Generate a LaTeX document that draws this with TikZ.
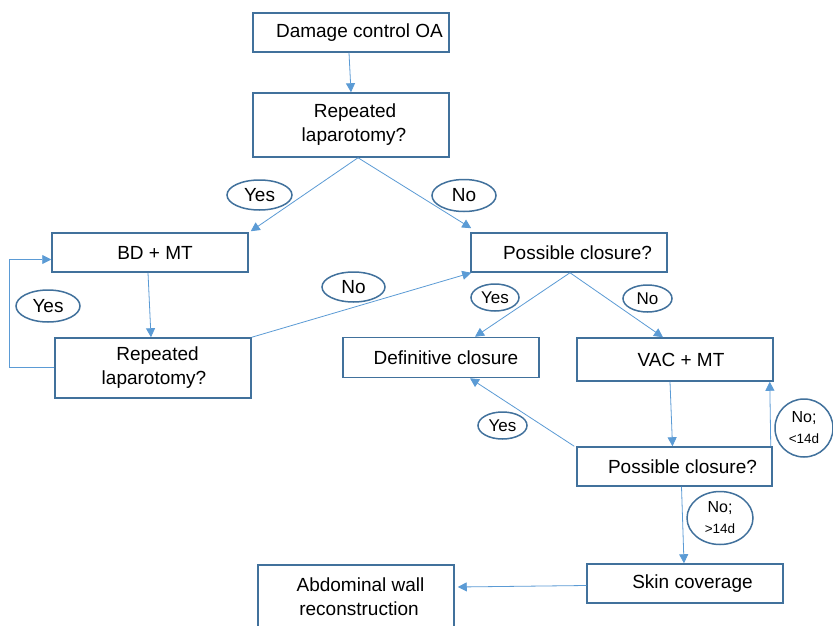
\documentclass[tikz,border=0pt]{standalone}
\usepackage{fontspec}
\setmainfont{Liberation Sans}
\usetikzlibrary{arrows.meta,shapes.geometric}
\definecolor{boxedge}{HTML}{41719C}
\definecolor{arrowblue}{HTML}{5B9BD5}
\tikzset{
  flowbox/.style={draw=boxedge, line width=1.5pt, rectangle, inner sep=0pt, align=center,
    font=\fontsize{19}{24}\selectfont},
  answer/.style={draw=boxedge, line width=1.5pt, ellipse, inner sep=0pt, align=center,
    font=\fontsize{19}{22}\selectfont},
  smallanswer/.style={answer, font=\fontsize{17}{20}\selectfont},
  flow/.style={draw=arrowblue, line width=0.8pt, -{Triangle[length=9pt,width=9pt]}},
}
\begin{document}
\begin{tikzpicture}[x=1pt,y=-1pt]
\path[use as bounding box, clip] (0,0) rectangle (833,626);
\fill[white] (0,0) rectangle (833,626);

% boxes
\node[flowbox, minimum width=196, minimum height=39] (dc) at (351,32.5) {\hspace*{17pt}Damage control OA};
\node[flowbox, minimum width=196, minimum height=64] (rl1) at (351,125) {\hspace*{8pt}Repeated\\\hspace*{6pt}laparotomy?};
\node[flowbox, minimum width=196, minimum height=39] (bd) at (150,252.5) {\hspace*{10pt}BD + MT};
\node[flowbox, minimum width=196, minimum height=60] (rl2) at (153,368) {\hspace*{9pt}Repeated\\\hspace*{2pt}laparotomy?};
\node[flowbox, minimum width=196, minimum height=39] (pc1) at (569,252.5) {\hspace*{17pt}Possible closure?};
\node[flowbox, minimum width=196, minimum height=40] (dcl) at (441,357.5) {\hspace*{10pt}Definitive closure};
\node[flowbox, minimum width=196, minimum height=43] (vac) at (675,359.5) {\hspace*{12pt}VAC + MT};
\node[flowbox, minimum width=195, minimum height=39] (pc2) at (674.5,466.5) {\hspace*{16pt}Possible closure?};
\node[flowbox, minimum width=196, minimum height=39] (skin) at (685,583.5) {\hspace*{15pt}Skin coverage};
\node[flowbox, minimum width=196, minimum height=64] (abd) at (356,597) {\hspace*{9pt}Abdominal wall\\\hspace*{6pt}reconstruction};

% connectors
\draw[flow] ([xshift=-2pt]dc.south) -- (rl1.north);
\draw[flow] ([xshift=7pt]rl1.south) -- ([xshift=2pt,yshift=1pt]bd.north east);
\draw[flow] ([xshift=7pt]rl1.south) -- ([xshift=1pt,yshift=4pt]pc1.north west);
\draw[flow] ([xshift=-2pt]bd.south) -- ([xshift=-2pt]rl2.north);
\draw[flow] ([yshift=1pt]rl2.west) -- ++(-45,0) |- ([yshift=-7pt]bd.west);
\draw[flow] (rl2.north east) -- ([xshift=1pt]pc1.south west);
\draw[flow] ([xshift=1pt]pc1.south) -- ([xshift=34pt]dcl.north);
\draw[flow] ([xshift=1pt]pc1.south) -- ([xshift=-12pt]vac.north);
\draw[flow] ([xshift=-5pt]vac.south) -- ([xshift=-2pt]pc2.north);
\draw[flow] ([xshift=-2pt]pc2.north west) -- ([xshift=29pt]dcl.south);
\draw[flow] ([xshift=-2pt]pc2.north east) -- ([xshift=-4pt]vac.south east);
\draw[flow] ([xshift=7pt]pc2.south) -- ([xshift=-1pt]skin.north);
\draw[flow] ([yshift=-2pt]skin.west) -- ([xshift=3pt,yshift=10pt]abd.east);

% answer labels
\node[answer, minimum width=65, minimum height=30] (yes1) at (259.5,195) {Yes};
\node[answer, minimum width=64, minimum height=32] (no1) at (464,195.5) {No};
\node[answer, minimum width=64, minimum height=32] (yes2) at (48,306) {Yes};
\node[answer, minimum width=63, minimum height=30] (no2) at (353.5,287) {No};
\node[smallanswer, minimum width=48, minimum height=27] (yes3) at (495,297.5) {Yes};
\node[smallanswer, minimum width=49, minimum height=27] (no3) at (647.5,298.5) {No};
\node[smallanswer, minimum width=49, minimum height=27] (yes4) at (502.5,425.5) {Yes};
\node[answer, minimum width=58, minimum height=58, align=center] (no4) at (804,428)
  {\fontsize{16}{18}\selectfont No;\\[-1pt]\fontsize{13.5}{16}\selectfont \textless14d};
\node[answer, minimum width=66, minimum height=53, align=center] (no5) at (720,518)
  {\fontsize{16}{18}\selectfont No;\\[-1pt]\fontsize{13.5}{16}\selectfont \textgreater14d};
\end{tikzpicture}
\end{document}
